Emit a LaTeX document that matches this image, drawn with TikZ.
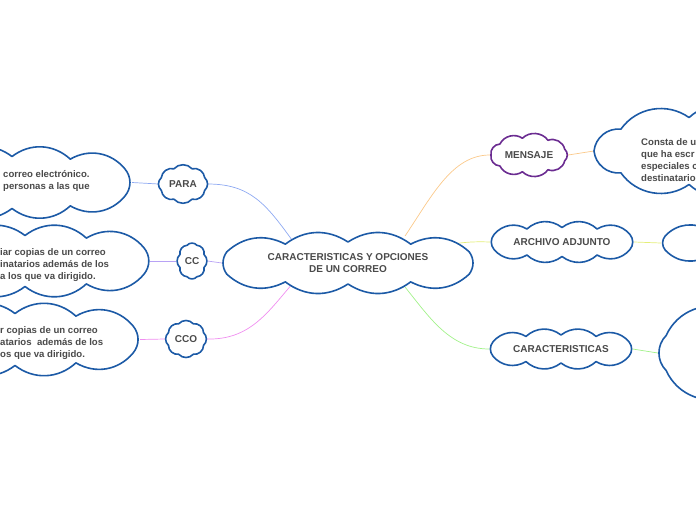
\documentclass[tikz,border=0pt]{standalone}
\usepackage{fontspec}
\setmainfont{Liberation Sans}
\usetikzlibrary{calc}
\definecolor{cloudblue}{HTML}{1C5AA6}
\definecolor{cloudpurple}{HTML}{6B2C91}
\definecolor{txt}{HTML}{4A4A4A}
\definecolor{cpara}{HTML}{8EA9F2}
\definecolor{ccc}{HTML}{B8A2F5}
\definecolor{ccco}{HTML}{F08EF0}
\definecolor{cmen}{HTML}{FBC98A}
\definecolor{carch}{HTML}{E4EE78}
\definecolor{ccar}{HTML}{A2F28A}
\pgfdeclarelayer{bg}
\pgfdeclarelayer{cl}
\pgfsetlayers{bg,cl,main}
\tikzset{
  puff/.store in=\puffbend, puff=40,
  cloudline/.style={draw=cloudblue, line width=1.6pt, fill=white, line join=round},
  lbl/.style={inner sep=0pt, text=txt, font=\fontsize{10}{11.5}\selectfont\bfseries, align=center},
  frag/.style={anchor=west, align=left, inner sep=0pt, text=txt, font=\fontsize{9.6}{12}\selectfont\bfseries},
  conn/.style={line width=0.7pt}
}
% [style]{node}{rx}{ry}{start angle}{angle list macro}
\newcommand{\cloudat}[6][]{%
  \begin{pgfonlayer}{cl}
  \draw[cloudline,#1] ($(#2)+(#5:#3 and #4)$)
    \foreach \t in #6 { to[bend left=\puffbend] ($(#2)+(\t:#3 and #4)$) } -- cycle;
  \end{pgfonlayer}}
\def\widelist{32,64,90,116,148,212,244,270,296,328}
\def\roundlist{67.5,112.5,157.5,202.5,247.5,292.5,337.5,382.5}
\def\midlist{20,60,100,140,180,220,260,300,340}
\begin{document}
\begin{tikzpicture}[x=1pt,y=-1pt]
\useasboundingbox (0,0) rectangle (696,520);
\clip (0,0) rectangle (696,520);
% nodes (invisible boxes carrying text)
\node[lbl, minimum width=252pt, minimum height=59pt] (main) at (348,263) {CARACTERISTICAS Y OPCIONES\\DE UN CORREO};
\node[lbl, minimum width=49pt, minimum height=40pt] (para) at (183,184) {PARA};
\node[lbl, minimum width=31pt, minimum height=40pt] (cc) at (192,261) {CC};
\node[lbl, minimum width=42pt, minimum height=40pt] (cco) at (186,339) {CCO};
\node[lbl, minimum width=240pt, minimum height=71pt] (tpara) at (12,182.5) {};
\node[lbl, minimum width=250pt, minimum height=70pt] (tcc) at (25,261) {};
\node[lbl, minimum width=250pt, minimum height=71pt] (tcco) at (15,339.5) {};
\node[frag] (fpara) at (3,181) {correo electrónico.\\personas a las que};
\node[frag] (fcc) at (0,265) {iar copias de un correo\\inatarios además de los\\a los que va dirigido.};
\node[frag] (fcco) at (0,343) {r copias de un correo\\atarios\ \ además de los\\os que va dirigido.};
\node[lbl, minimum width=78pt, minimum height=43pt] (men) at (529,155) {MENSAJE};
\node[lbl, minimum width=144pt, minimum height=40pt] (arch) at (562,242) {ARCHIVO ADJUNTO};
\node[lbl, minimum width=143pt, minimum height=39pt] (car) at (561,349) {CARACTERISTICAS};
\node[lbl, minimum width=230pt, minimum height=86pt] (tmen) at (709,151) {};
\node[lbl, minimum width=190pt, minimum height=38pt] (tarch) at (756,243) {};
\node[lbl, minimum width=240pt, minimum height=112pt] (tcar) at (778,353) {};
\node[frag] (fmen) at (641,160) {Consta de u\\que ha escr\\especiales c\\destinatario};
% cloud outlines
\cloudat[puff=35]{main}{143}{21}{-32}{\widelist}
\cloudat[puff=50]{para}{23.5}{16.5}{22.5}{\roundlist}
\cloudat[puff=50]{cc}{13}{17}{22.5}{\roundlist}
\cloudat[puff=50]{cco}{19}{16.5}{22.5}{\roundlist}
\cloudat[puff=40]{tpara}{133}{26}{-32}{\widelist}
\cloudat[puff=40]{tcc}{140}{25.5}{-32}{\widelist}
\cloudat[puff=40]{tcco}{139}{26}{-32}{\widelist}
\cloudat[puff=50,draw=cloudpurple]{men}{38}{17}{-20}{\midlist}
\cloudat[puff=40]{arch}{80}{14.5}{-32}{\widelist}
\cloudat[puff=40]{car}{80}{14}{-32}{\widelist}
\cloudat[puff=45]{tmen}{115}{34}{-20}{\midlist}
\cloudat[puff=40]{tarch}{107}{13.5}{-32}{\widelist}
\cloudat[puff=45]{tcar}{121}{46}{22.5}{\roundlist}
% connectors
\coordinate (epara) at (292,240);
\coordinate (ecco) at (293,283);
\coordinate (emen) at (405,236);
\coordinate (earch) at (440,246);
\coordinate (ecar) at (405,287);
\begin{pgfonlayer}{bg}
\draw[conn, cpara] (para.east) .. controls (250,184) and (266,204) .. (epara);
\draw[conn, ccc] (cc.east) -- (main.west);
\draw[conn, ccco] (cco.east) .. controls (250,340) and (268,312) .. (ecco);
\draw[conn, cmen] (men.west) .. controls (452,155) and (432,196) .. (emen);
\draw[conn, carch] (arch.west) .. controls (465,241) and (455,244) .. (earch);
\draw[conn, ccar] (car.west) .. controls (450,349) and (430,318) .. (ecar);
\draw[conn, cpara] (tpara.east) -- (para.west);
\draw[conn, ccc] (tcc.east) -- (cc.west);
\draw[conn, ccco] (tcco.east) -- (cco.west);
\draw[conn, cmen] (men.east) -- (tmen.west);
\draw[conn, carch] (arch.east) -- (tarch.west);
\draw[conn, ccar] (car.east) -- (tcar.west);
\end{pgfonlayer}
\end{tikzpicture}
\end{document}
